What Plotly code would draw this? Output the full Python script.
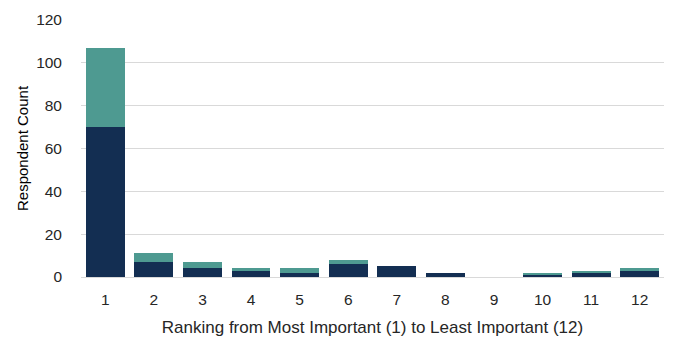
import plotly.graph_objects as go

categories = ["1", "2", "3", "4", "5", "6", "7", "8", "9", "10", "11", "12"]
dark_values = [70, 7, 4, 3, 2, 6, 5, 2, 0, 1, 2, 3]
teal_values = [37, 4, 3, 1, 2, 2, 0, 0, 0, 1, 1, 1]
y_ticks = [0, 20, 40, 60, 80, 100, 120]

fig = go.Figure()
fig.add_trace(go.Bar(x=categories, y=dark_values, name="Series 1",
                     marker=dict(color="#132E52", line=dict(width=0))))
fig.add_trace(go.Bar(x=categories, y=teal_values, name="Series 2",
                     marker=dict(color="#4E9A91", line=dict(width=0))))

font_family = "Liberation Sans, Arial, sans-serif"
fig.update_layout(
    barmode="stack",
    bargap=0.2,
    width=690, height=354,
    margin=dict(l=81, r=26, t=20, b=77),
    plot_bgcolor="white", paper_bgcolor="white",
    showlegend=False,
    font=dict(family=font_family, size=16, color="#262626"),
    xaxis=dict(
        title=dict(text="Ranking from Most Important (1) to Least Important (12)",
                   font=dict(size=17, color="#262626"), standoff=14),
        tickfont=dict(size=15.5, color="#262626"),
        showline=True, linecolor="#d9d9d9", linewidth=1,
        ticks="", showgrid=False, ticklabelstandoff=8,
    ),
    yaxis=dict(
        title=dict(text="Respondent Count", font=dict(size=15, color="#000000"), standoff=3),
        range=[0, 120], tickvals=y_ticks,
        tickfont=dict(size=15.5, color="#262626"),
        showgrid=True, gridcolor="#d9d9d9", gridwidth=1,
        zeroline=False, ticks="", ticklabelstandoff=18,
    ),
)

fig.write_html("out.html")
